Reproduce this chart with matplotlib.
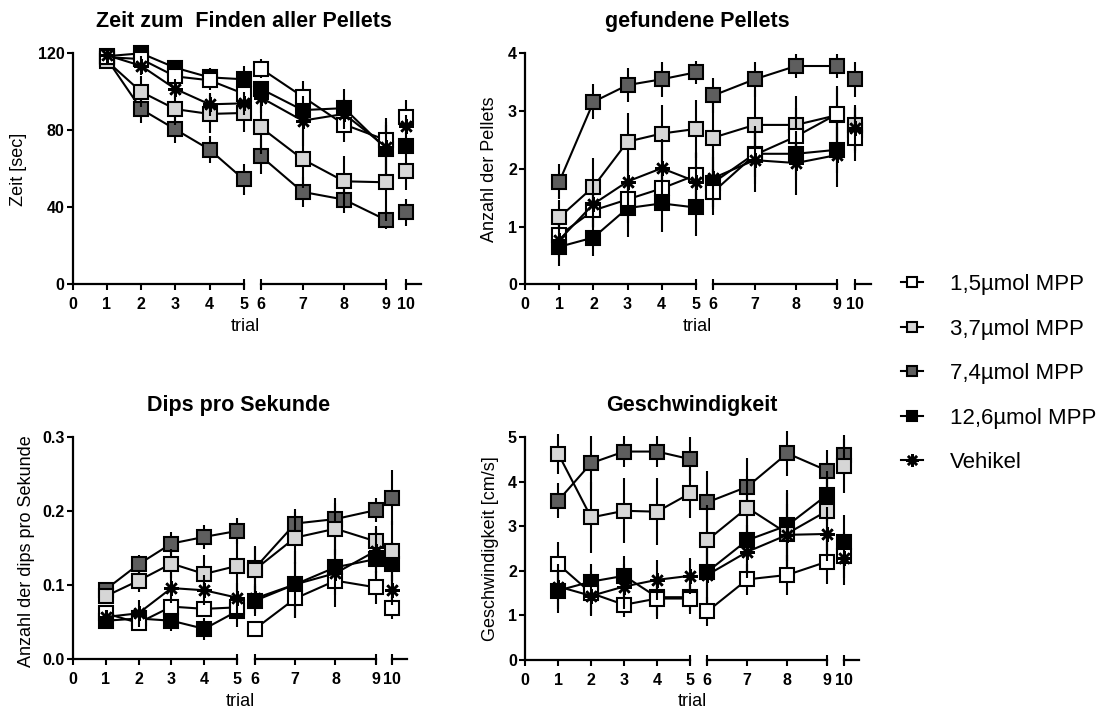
import matplotlib
matplotlib.use("Agg")
import matplotlib.pyplot as plt
from matplotlib.lines import Line2D

plt.rcParams["font.family"] = ["Liberation Sans", "DejaVu Sans"]

W, H = 1110, 711

trials = [1, 2, 3, 4, 5, 6, 7, 8, 9, 10]
group_labels = ["1,5µmol MPP", "3,7µmol MPP", "7,4µmol MPP", "12,6µmol MPP", "Vehikel"]

# --- Zeit zum Finden aller Pellets [sec] ---
zeit_1_5 = [118, 117, 108, 106, 99, 112, 97.5, 83, 75, 87]
zeit_1_5_sem = [3, 3, 5, 5, 8, 5, 8, 9, 8, 9]
zeit_3_7 = [116, 100, 91, 88.5, 89, 81.5, 65, 53.5, 53, 59]
zeit_3_7_sem = [3, 8, 8, 10, 10, 14, 15, 13, 20, 10]
zeit_7_4 = [117, 91, 80.5, 70, 54.5, 66.5, 48, 44, 33.5, 37.5]
zeit_7_4_sem = [3, 7, 7, 7, 8, 9, 8, 7, 5, 7]
zeit_12_6 = [118.5, 120, 112.5, 107.5, 106.5, 101.5, 90.5, 91.5, 70.5, 72]
zeit_12_6_sem = [2, 2, 3, 5, 7, 4, 6, 10, 14, 4]
zeit_veh = [119, 113.5, 101.5, 93.5, 94, 97, 85, 88.5, 71.5, 82]
zeit_veh_sem = [2, 5, 5, 6, 6, 8, 13, 8, 15, 6]

# --- gefundene Pellets ---
pel_1_5 = [0.85, 1.28, 1.47, 1.66, 1.89, 1.60, 2.24, 2.56, 2.95, 2.53]
pel_1_5_sem = [0.2, 0.3, 0.4, 0.35, 0.4, 0.4, 0.5, 0.5, 0.45, 0.4]
pel_3_7 = [1.16, 1.69, 2.47, 2.61, 2.69, 2.54, 2.76, 2.76, 2.93, 2.76]
pel_3_7_sem = [0.3, 0.5, 0.5, 0.5, 0.5, 0.6, 0.6, 0.5, 0.5, 0.3]
pel_7_4 = [1.78, 3.16, 3.45, 3.55, 3.67, 3.27, 3.55, 3.78, 3.78, 3.55]
pel_7_4_sem = [0.3, 0.3, 0.3, 0.3, 0.2, 0.3, 0.3, 0.2, 0.2, 0.3]
pel_12_6 = [0.65, 0.81, 1.32, 1.40, 1.33, 1.76, 2.26, 2.26, 2.33, 2.67]
pel_12_6_sem = [0.33, 0.32, 0.5, 0.5, 0.5, 0.45, 0.4, 0.45, 0.4, 0.4]
pel_veh = [0.77, 1.39, 1.78, 2.01, 1.78, 1.84, 2.15, 2.10, 2.24, 2.70]
pel_veh_sem = [0.3, 0.4, 0.5, 0.5, 0.5, 0.5, 0.55, 0.55, 0.55, 0.4]

# --- Dips pro Sekunde ---
dips_1_5 = [0.062, 0.049, 0.071, 0.068, 0.070, 0.041, 0.082, 0.106, 0.097, 0.069]
dips_1_5_sem = [0.008, 0.008, 0.01, 0.01, 0.01, 0.01, 0.027, 0.02, 0.022, 0.015]
dips_3_7 = [0.085, 0.106, 0.129, 0.115, 0.126, 0.121, 0.164, 0.176, 0.159, 0.146]
dips_3_7_sem = [0.01, 0.015, 0.02, 0.025, 0.035, 0.03, 0.035, 0.035, 0.02, 0.04]
dips_7_4 = [0.094, 0.128, 0.156, 0.165, 0.173, 0.123, 0.183, 0.189, 0.201, 0.218]
dips_7_4_sem = [0.01, 0.012, 0.016, 0.016, 0.018, 0.03, 0.02, 0.028, 0.016, 0.037]
dips_12_6 = [0.052, 0.055, 0.052, 0.041, 0.065, 0.079, 0.101, 0.124, 0.135, 0.128]
dips_12_6_sem = [0.006, 0.01, 0.014, 0.015, 0.022, 0.02, 0.03, 0.025, 0.025, 0.03]
dips_veh = [0.057, 0.062, 0.096, 0.093, 0.083, 0.082, 0.101, 0.116, 0.146, 0.093]
dips_veh_sem = [0.01, 0.018, 0.02, 0.02, 0.02, 0.02, 0.045, 0.045, 0.03, 0.02]

# --- Geschwindigkeit [cm/s] ---
gesch_1_5 = [2.15, 1.50, 1.24, 1.38, 1.38, 1.09, 1.81, 1.91, 2.21, 2.34]
gesch_1_5_sem = [0.5, 0.5, 0.27, 0.4, 0.35, 0.33, 0.35, 0.45, 0.5, 0.5]
gesch_3_7 = [4.63, 3.20, 3.35, 3.33, 3.74, 2.69, 3.42, 2.84, 3.35, 4.36]
gesch_3_7_sem = [0.45, 0.8, 0.73, 0.75, 0.55, 0.8, 0.7, 0.9, 0.9, 0.6]
gesch_7_4 = [3.58, 4.42, 4.68, 4.68, 4.51, 3.54, 3.89, 4.64, 4.25, 4.60]
gesch_7_4_sem = [0.4, 0.6, 0.35, 0.35, 0.5, 0.7, 0.64, 0.5, 0.47, 0.45]
gesch_12_6 = [1.56, 1.76, 1.89, 1.41, 1.41, 1.98, 2.69, 3.02, 3.71, 2.65]
gesch_12_6_sem = [0.5, 0.4, 0.45, 0.5, 0.3, 0.7, 0.7, 0.8, 0.6, 0.6]
gesch_veh = [1.65, 1.44, 1.65, 1.80, 1.89, 1.91, 2.43, 2.81, 2.83, 2.28]
gesch_veh_sem = [0.5, 0.45, 0.5, 0.45, 0.4, 0.6, 0.6, 0.7, 0.6, 0.6]

# marker style per group: (marker, face colour, size, zorder)
STYLES = [
    ("s", "white", 9.5, 8),
    ("s", "#d6d6d6", 9.5, 7),
    ("s", "#5e5e5e", 9.5, 6),
    ("s", "black", 9.5, 5),
    ((8, 2, 0), "black", 10.5, 9),
]

# broken x axis: three segments
SEG_LIMITS = [(0, 5), (6, 9), (10, 10.36)]
SEG_TICKS = [[0, 1, 2, 3, 4, 5], [6, 7, 8, 9], [10]]


def px_box(x0, x1, ytop, ybot):
    return [x0 / W, 1 - ybot / H, (x1 - x0) / W, (ybot - ytop) / H]


def draw_panel(fig, seg_px, ytop, ybot, ymax, yticks, yticklabels,
               series, title, title_xy, ylabel, ylabel_xy, xlabel_xy):
    axes = []
    for i, ((x0, x1), (lo, hi), ticks) in enumerate(zip(seg_px, SEG_LIMITS, SEG_TICKS)):
        ax = fig.add_axes(px_box(x0, x1, ytop, ybot))
        ax.set_xlim(lo, hi)
        ax.set_ylim(0, ymax)
        ax.patch.set_visible(False)
        for side in ("top", "right"):
            ax.spines[side].set_visible(False)
        ax.spines["bottom"].set_linewidth(1.6)
        if i == 0:
            ax.spines["left"].set_linewidth(1.6)
            ax.set_yticks(yticks, labels=yticklabels, fontweight="bold", fontsize=11.5)
            ax.tick_params(axis="y", length=4.5, width=1.5, pad=1.5)
        else:
            ax.spines["left"].set_visible(False)
            ax.set_yticks([])
        ax.set_xticks(ticks, labels=[str(t) for t in ticks], fontweight="bold", fontsize=11.5)
        ax.tick_params(axis="x", length=4.5, width=1.5, pad=5)

        # break caps at the segment ends
        if i == 0:
            caps = [hi]
        elif i == 1:
            caps = [lo, hi]
        else:
            caps = [lo]
        ax.plot(caps, [0] * len(caps), ls="none", marker="|", ms=7, mew=1.5,
                color="black", clip_on=False, zorder=10)

        for (vals, sem), (mk, fc, ms, z) in zip(series, STYLES):
            xs = [t for t in trials if lo <= t <= hi]
            ys = [v for t, v in zip(trials, vals) if lo <= t <= hi]
            es = [e for t, e in zip(trials, sem) if lo <= t <= hi]
            eb = ax.errorbar(xs, ys, yerr=es, fmt="none", ecolor="black",
                             elinewidth=1.5, capsize=0, zorder=z - 0.5)
            for art in eb.lines[2]:
                art.set_clip_on(False)
            if mk == "s":
                ax.plot(xs, ys, color="black", lw=1.5, marker=mk, ms=ms,
                        mfc=fc, mec="black", mew=1.5, clip_on=False, zorder=z)
            else:
                ax.plot(xs, ys, color="black", lw=1.5, marker=mk, ms=ms,
                        mec="black", mew=1.8, clip_on=False, zorder=z)
        axes.append(ax)

    fig.text(title_xy[0] / W, 1 - title_xy[1] / H, title, ha="center",
             va="baseline", fontsize=15.5, fontweight="bold")
    fig.text(ylabel_xy[0] / W, 1 - ylabel_xy[1] / H, ylabel, ha="center",
             va="center", rotation=90, fontsize=13)
    fig.text(xlabel_xy[0] / W, 1 - xlabel_xy[1] / H, "trial", ha="center",
             va="center", fontsize=13)
    return axes


fig = plt.figure(figsize=(W / 100, H / 100), dpi=100)

draw_panel(fig, [(72.7, 243.7), (261, 385.7), (406, 420.7)], 53.3, 284.3, 120,
           [0, 40, 80, 120], ["0", "40", "80", "120"],
           [(zeit_1_5, zeit_1_5_sem), (zeit_3_7, zeit_3_7_sem), (zeit_7_4, zeit_7_4_sem),
            (zeit_12_6, zeit_12_6_sem), (zeit_veh, zeit_veh_sem)],
           "Zeit zum  Finden aller Pellets", (244, 26.7), "Zeit [sec]", (18.3, 169), (245, 327))

draw_panel(fig, [(525.3, 695.7), (713.3, 837.3), (855, 870.7)], 53.3, 284.3, 4,
           [0, 1, 2, 3, 4], ["0", "1", "2", "3", "4"],
           [(pel_1_5, pel_1_5_sem), (pel_3_7, pel_3_7_sem), (pel_7_4, pel_7_4_sem),
            (pel_12_6, pel_12_6_sem), (pel_veh, pel_veh_sem)],
           "gefundene Pellets", (697, 26.7), "Anzahl der Pellets", (490, 169), (697, 327))

draw_panel(fig, [(72.7, 237.3), (255, 375.7), (392.3, 406.7)], 436.7, 659.3, 0.3,
           [0, 0.1, 0.2, 0.3], ["0.0", "0.1", "0.2", "0.3"],
           [(dips_1_5, dips_1_5_sem), (dips_3_7, dips_3_7_sem), (dips_7_4, dips_7_4_sem),
            (dips_12_6, dips_12_6_sem), (dips_veh, dips_veh_sem)],
           "Dips pro Sekunde", (239, 410.7), "Anzahl der dips pro Sekunde", (26.7, 551), (240, 702))

draw_panel(fig, [(525.3, 690), (707.3, 827.3), (844.3, 859.3)], 437.3, 660, 5,
           [0, 1, 2, 3, 4, 5], ["0", "1", "2", "3", "4", "5"],
           [(gesch_1_5, gesch_1_5_sem), (gesch_3_7, gesch_3_7_sem), (gesch_7_4, gesch_7_4_sem),
            (gesch_12_6, gesch_12_6_sem), (gesch_veh, gesch_veh_sem)],
           "Geschwindigkeit", (692, 410.7), "Geschwindigkeit [cm/s]", (490.7, 549), (692, 702))

handles = []
for mk, fc, ms, z in STYLES:
    if mk == "s":
        handles.append(Line2D([], [], color="black", lw=1.5, marker=mk, ms=7.5,
                              mfc=fc, mec="black", mew=1.5))
    else:
        handles.append(Line2D([], [], color="black", lw=1.5, marker=mk, ms=9,
                              mec="black", mew=1.8))

fig.legend(handles, group_labels, loc="upper left",
           bbox_to_anchor=(901 / W, 1 - 274 / H), frameon=False, fontsize=16,
           handlelength=1.0, handletextpad=1.2, labelspacing=1.06,
           borderaxespad=0, borderpad=0)

fig.savefig("out.png", dpi=100)
